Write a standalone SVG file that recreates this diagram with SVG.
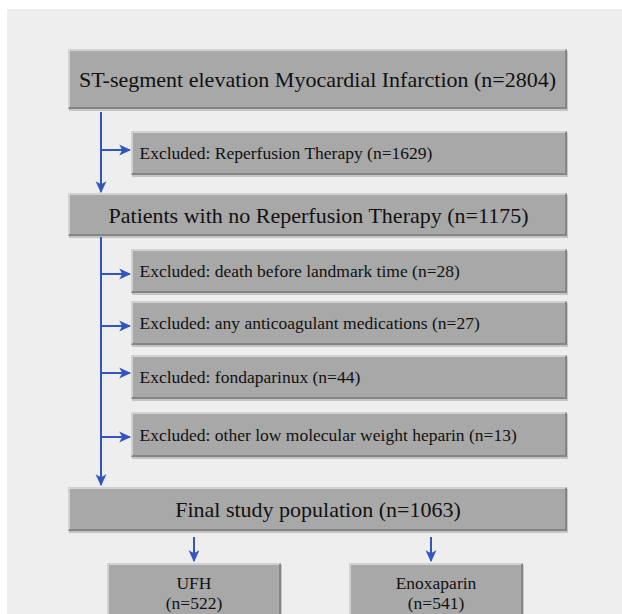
<svg xmlns="http://www.w3.org/2000/svg" width="622" height="614" viewBox="0 0 622 614">
  <style>
    .sh { fill: #c4c4c4; }
    .bx { fill: #a8a8a8; }
    .hi { fill: none; stroke: #d2d2d2; stroke-width: 2; }
    .lo { fill: none; stroke: #858585; stroke-width: 2; }
    .t { font-family: "Liberation Serif", "Times New Roman", serif; fill: #111111; }
    .big { font-size: 22px; text-anchor: middle; }
    .ex { font-size: 17.5px; }
    .sm { font-size: 17.5px; text-anchor: middle; }
    .cn { fill: none; stroke: #3355c4; stroke-width: 2; }
  </style>
  <defs>
    <marker id="ah" viewBox="0 0 10 10" refX="9" refY="5" markerWidth="6" markerHeight="6" markerUnits="strokeWidth" orient="auto">
      <path d="M0,0.5 L10,5 L0,9.5 L2.5,5 z" fill="#3355c4"/>
    </marker>
  </defs>
  <rect x="0" y="0" width="622" height="614" fill="#ffffff"/>
  <rect x="7" y="9" width="615" height="605" fill="#eeeeee"/>

  <g id="n1">
    <rect class="sh" x="69" y="51" width="499" height="60"/>
    <rect class="bx" x="68" y="49" width="499" height="60"/>
    <path class="hi" d="M69,108 V50 H566"/>
    <path class="lo" d="M566,50 V108 H69"/>
    <text class="t big" x="317.5" y="86.5">ST-segment elevation Myocardial Infarction (n=2804)</text>
  </g>
  <g id="n2">
    <rect class="sh" x="132" y="133" width="436" height="44"/>
    <rect class="bx" x="131" y="131" width="436" height="44"/>
    <path class="hi" d="M132,174 V132 H566"/>
    <path class="lo" d="M566,132 V174 H132"/>
    <text class="t ex" x="139.5" y="159">Excluded: Reperfusion Therapy (n=1629)</text>
  </g>
  <g id="n3">
    <rect class="sh" x="69" y="195" width="499" height="43"/>
    <rect class="bx" x="68" y="193" width="499" height="43"/>
    <path class="hi" d="M69,235 V194 H566"/>
    <path class="lo" d="M566,194 V235 H69"/>
    <text class="t big" x="318.5" y="222.5">Patients with no Reperfusion Therapy (n=1175)</text>
  </g>
  <g id="n4">
    <rect class="sh" x="132" y="251" width="436" height="44"/>
    <rect class="bx" x="131" y="249" width="436" height="44"/>
    <path class="hi" d="M132,292 V250 H566"/>
    <path class="lo" d="M566,250 V292 H132"/>
    <text class="t ex" x="139.5" y="277">Excluded: death before landmark time (n=28)</text>
  </g>
  <g id="n5">
    <rect class="sh" x="132" y="303" width="436" height="44"/>
    <rect class="bx" x="131" y="301" width="436" height="44"/>
    <path class="hi" d="M132,344 V302 H566"/>
    <path class="lo" d="M566,302 V344 H132"/>
    <text class="t ex" x="139.5" y="329">Excluded: any anticoagulant medications (n=27)</text>
  </g>
  <g id="n6">
    <rect class="sh" x="132" y="357" width="436" height="44"/>
    <rect class="bx" x="131" y="355" width="436" height="44"/>
    <path class="hi" d="M132,398 V356 H566"/>
    <path class="lo" d="M566,356 V398 H132"/>
    <text class="t ex" x="139.5" y="383">Excluded: fondaparinux (n=44)</text>
  </g>
  <g id="n7">
    <rect class="sh" x="132" y="414" width="436" height="45"/>
    <rect class="bx" x="131" y="412" width="436" height="45"/>
    <path class="hi" d="M132,456 V413 H566"/>
    <path class="lo" d="M566,413 V456 H132"/>
    <text class="t ex" x="139.5" y="441">Excluded: other low molecular weight heparin (n=13)</text>
  </g>
  <g id="n8">
    <rect class="sh" x="69" y="489" width="499" height="44"/>
    <rect class="bx" x="68" y="487" width="499" height="44"/>
    <path class="hi" d="M69,530 V488 H566"/>
    <path class="lo" d="M566,488 V530 H69"/>
    <text class="t big" x="318" y="517">Final study population (n=1063)</text>
  </g>
  <g id="n9">
    <rect class="sh" x="108" y="565" width="174" height="60"/>
    <rect class="bx" x="107" y="563" width="174" height="60"/>
    <path class="hi" d="M108,622 V564 H280"/>
    <path class="lo" d="M280,564 V622"/>
    <text class="t sm" x="194" y="589">UFH</text>
    <text class="t sm" x="194" y="609">(n=522)</text>
  </g>
  <g id="n10">
    <rect class="sh" x="350" y="565" width="174" height="60"/>
    <rect class="bx" x="349" y="563" width="174" height="60"/>
    <path class="hi" d="M350,622 V564 H522"/>
    <path class="lo" d="M522,564 V622"/>
    <text class="t sm" x="436" y="589">Enoxaparin</text>
    <text class="t sm" x="436" y="609">(n=541)</text>
  </g>

  <g id="connectors">
    <path class="cn" d="M101,112 V192" marker-end="url(#ah)"/>
    <path class="cn" d="M101,150 H130" marker-end="url(#ah)"/>
    <path class="cn" d="M101,237 V485" marker-end="url(#ah)"/>
    <path class="cn" d="M101,274 H130" marker-end="url(#ah)"/>
    <path class="cn" d="M101,326 H130" marker-end="url(#ah)"/>
    <path class="cn" d="M101,373 H130" marker-end="url(#ah)"/>
    <path class="cn" d="M101,437 H130" marker-end="url(#ah)"/>
    <path class="cn" d="M194,537 V561" marker-end="url(#ah)"/>
    <path class="cn" d="M431,537 V561" marker-end="url(#ah)"/>
  </g>
</svg>
